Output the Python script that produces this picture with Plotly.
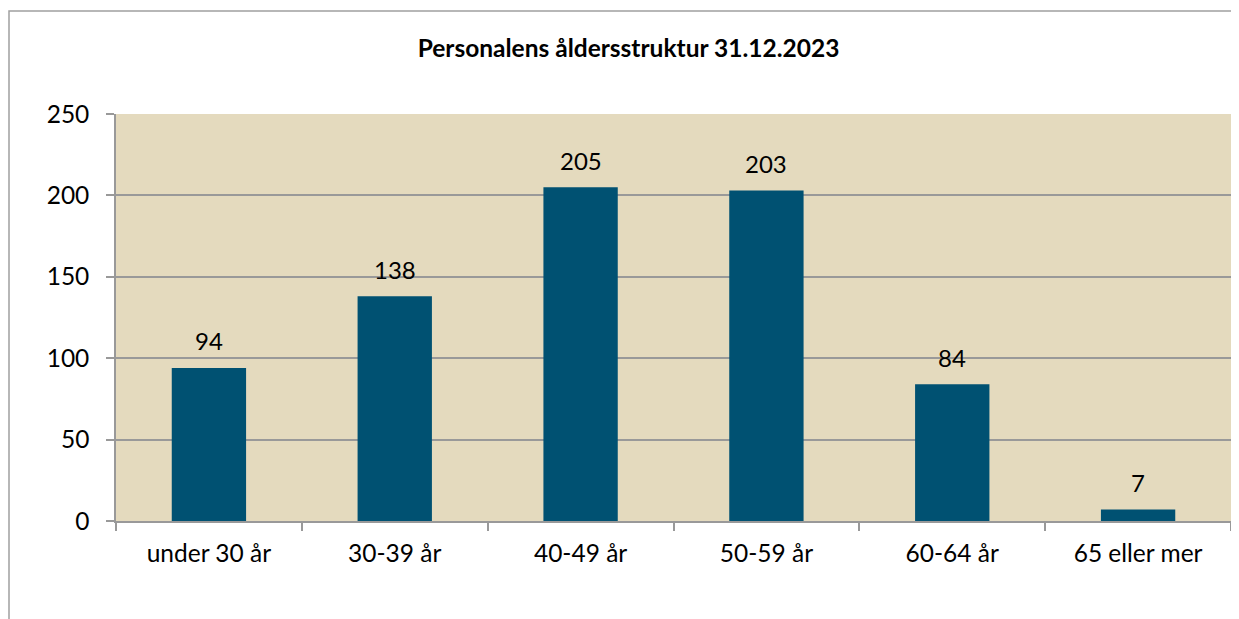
import plotly.graph_objects as go

categories = ["under 30 år", "30-39 år", "40-49 år", "50-59 år", "60-64 år", "65 eller mer"]
values = [94, 138, 205, 203, 84, 7]
y_ticks = [0, 50, 100, 150, 200, 250]
title = "Personalens åldersstruktur 31.12.2023"

FONT = "Lato, Open Sans, sans-serif"
OFF = 8  # page body margin

W, H = 1239, 619
L, R, T, B = 116 - OFF, W - (1231 - OFF), 114 - OFF, H - (521 - OFF)
PW, PH = W - L - R, H - T - B

fig = go.Figure(go.Bar(
    x=categories, y=values,
    marker=dict(color="#005172", line=dict(width=0)),
    cliponaxis=False,
))

for c, v in zip(categories, values):
    fig.add_annotation(x=c, y=v, text=str(v), showarrow=False,
                       yanchor="middle", yshift=27,
                       font=dict(family=FONT, size=24, color="#000000"))

fig.update_layout(
    width=W, height=H,
    margin=dict(l=L, r=R, t=T, b=B, autoexpand=False),
    paper_bgcolor="#ffffff", plot_bgcolor="#E4DABE",
    bargap=0.6, showlegend=False,
    font=dict(family=FONT, size=24, color="#000000"),
    title=dict(text="<b>" + title + "</b>", x=(628.5 - OFF) / W, xanchor="center",
               y=1 - (48 - OFF) / H, yanchor="middle", xref="container", yref="container",
               font=dict(family=FONT, size=24.5, color="#000000")),
    xaxis=dict(showgrid=False, ticks="outside", tickson="boundaries",
               ticklen=8, tickcolor="#999999", tickwidth=1.5,
               showline=True, linecolor="#999999", linewidth=1.5,
               automargin=False, ticklabelstandoff=10,
               tickfont=dict(family=FONT, size=24.5)),
    yaxis=dict(range=[0, 250], tickvals=y_ticks, showgrid=True,
               gridcolor="#999999", gridwidth=1.5,
               ticks="outside", ticklen=8, tickcolor="#999999", tickwidth=1.5,
               showline=True, linecolor="#999999", linewidth=1.5,
               zeroline=False, ticklabelstandoff=12, automargin=False,
               tickfont=dict(family=FONT, size=24.5)),
)

fig.add_shape(type="rect", xref="paper", yref="paper",
              x0=(9 - OFF - L) / PW, x1=1.2, y0=-0.5, y1=1 + (T - (11 - OFF)) / PH,
              line=dict(color="#a0a0a0", width=1.5), fillcolor="rgba(0,0,0,0)",
              layer="below")

fig.write_html("out.html")
